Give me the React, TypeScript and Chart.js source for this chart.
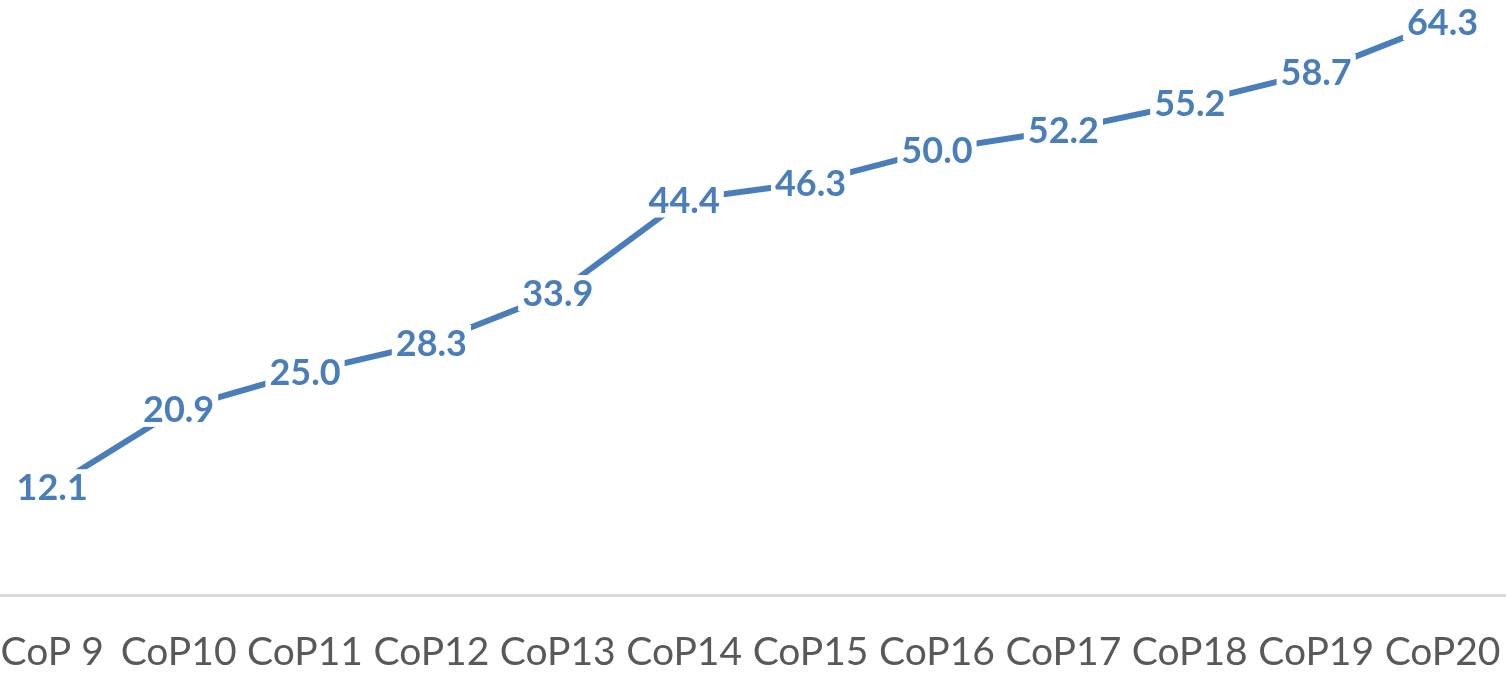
import React, { useEffect, useRef } from "react";
import { Chart, registerables } from "chart.js";

Chart.register(...registerables);

const categories = ["CoP 9", "CoP10", "CoP11", "CoP12", "CoP13", "CoP14", "CoP15", "CoP16", "CoP17", "CoP18", "CoP19", "CoP20"];
const values = [12.1, 20.9, 25.0, 28.3, 33.9, 44.4, 46.3, 50.0, 52.2, 55.2, 58.7, 64.3];

const BLUE = "#4a7ebb";
const VIEW_W = 1506;
const VIEW_H = 674;
const CANVAS_H = 709;

const valueLabelPlugin = {
  id: "valueLabels",
  afterDatasetsDraw(chart: any) {
    const ctx = chart.ctx;
    const meta = chart.getDatasetMeta(0);
    ctx.save();
    ctx.font = "bold 36px Lato";
    ctx.textAlign = "center";
    ctx.textBaseline = "alphabetic";
    meta.data.forEach((pt: any, i: number) => {
      const text = values[i].toFixed(1);
      const m = ctx.measureText(text);
      const asc = m.actualBoundingBoxAscent;
      const desc = m.actualBoundingBoxDescent;
      const w = m.width;
      const baseline = pt.y + (asc - desc) / 2;
      ctx.fillStyle = "#ffffff";
      ctx.fillRect(pt.x - w / 2 - 4, baseline - asc - 5, w + 8, asc + desc + 10);
      ctx.fillStyle = BLUE;
      ctx.fillText(text, pt.x, baseline);
    });
    ctx.restore();
  },
};

export default function App() {
  const canvasRef = useRef<HTMLCanvasElement | null>(null);

  useEffect(() => {
    document.body.style.margin = "0";
    if (!canvasRef.current) return;
    const chart = new Chart(canvasRef.current, {
      type: "line",
      data: {
        datasets: [
          {
            data: values.map((v, i) => ({ x: i, y: v })),
            borderColor: BLUE,
            borderWidth: 6,
            pointRadius: 0,
            tension: 0,
            fill: false,
          },
        ],
      },
      options: {
        animation: false,
        responsive: false,
        devicePixelRatio: 1,
        layout: { padding: 0 },
        plugins: {
          legend: { display: false },
          tooltip: { enabled: false },
          title: { display: false },
        },
        scales: {
          x: {
            type: "linear",
            min: -0.413,
            max: 11.502,
            grid: { display: false, drawTicks: false },
            border: { display: true, color: "#d9d9d9", width: 3 },
            ticks: {
              stepSize: 1,
              includeBounds: false,
              color: "#595959",
              font: { family: "Lato", size: 39, lineHeight: 114 / 39 },
              padding: 0,
              maxRotation: 0,
              autoSkip: false,
              callback: (value: any) => categories[value as number] ?? "",
            },
          },
          y: {
            display: false,
            min: 0,
            max: 66.8,
          },
        },
      },
      plugins: [valueLabelPlugin],
    });
    return () => chart.destroy();
  }, []);

  return (
    <div style={{ width: VIEW_W, height: VIEW_H, overflow: "hidden", background: "#ffffff" }}>
      <canvas
        ref={canvasRef}
        width={VIEW_W}
        height={CANVAS_H}
        style={{ display: "block", width: VIEW_W, height: CANVAS_H }}
      />
    </div>
  );
}
